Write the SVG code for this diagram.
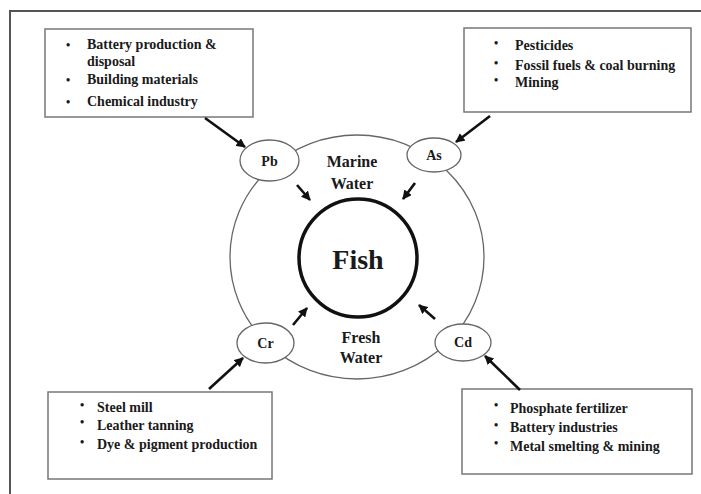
<svg xmlns="http://www.w3.org/2000/svg" width="701" height="494" viewBox="0 0 701 494">
<style>
text{font-family:"Liberation Serif","Times New Roman",serif;font-weight:bold;fill:#1a1a1a}
.box{fill:#fff;stroke:#777;stroke-width:1.5}
.el{fill:#fff;stroke:#666;stroke-width:1.3}
.t{font-size:14px}
.b{font-size:12px}
.lbl{font-size:14px;text-anchor:middle}
.wl{font-size:16px;text-anchor:middle}
.arr{stroke:#111;stroke-width:2.6;fill:none;marker-end:url(#ah)}
</style>
<defs>
<marker id="ah" viewBox="0 0 10 10" refX="9" refY="5" markerWidth="3.6" markerHeight="3.6" orient="auto" markerUnits="strokeWidth">
<path d="M0,0 L10,5 L0,10 z" fill="#111"/>
</marker>
</defs>
<rect width="701" height="494" fill="#fff"/>
<path d="M10,494 V11 H701" fill="none" stroke="#555" stroke-width="2"/>

<g id="water">
<ellipse cx="357" cy="257" rx="127" ry="122" fill="none" stroke="#666" stroke-width="1.3"/>
<text class="wl" x="352" y="167">Marine</text>
<text class="wl" x="352" y="189">Water</text>
<text class="wl" x="361" y="343">Fresh</text>
<text class="wl" x="361" y="363">Water</text>
</g>

<g id="fish">
<circle cx="358" cy="258" r="59" fill="#fff" stroke="#111" stroke-width="3.5"/>
<text x="358" y="269" font-size="28" text-anchor="middle">Fish</text>
</g>

<g id="pb"><ellipse class="el" cx="269.5" cy="160.5" rx="29.5" ry="20.5"/><text class="lbl" x="269.5" y="166">Pb</text></g>
<g id="as"><ellipse class="el" cx="434" cy="155" rx="27" ry="17"/><text class="lbl" x="434" y="160">As</text></g>
<g id="cr"><ellipse class="el" cx="265.5" cy="343" rx="28.5" ry="20"/><text class="lbl" x="265.5" y="348">Cr</text></g>
<g id="cd"><ellipse class="el" cx="463" cy="342.5" rx="28" ry="18.5"/><text class="lbl" x="463" y="347">Cd</text></g>

<g id="box-pb">
<rect class="box" x="45" y="29" width="208" height="88"/>
<text class="b" x="66" y="49">•</text><text class="t" x="87" y="49">Battery production &amp;</text>
<text class="t" x="87" y="66">disposal</text>
<text class="b" x="66" y="84">•</text><text class="t" x="87" y="84">Building materials</text>
<text class="b" x="66" y="106">•</text><text class="t" x="87" y="106">Chemical industry</text>
</g>

<g id="box-as">
<rect class="box" x="464" y="28" width="227" height="84"/>
<text class="b" x="494" y="47">•</text><text class="t" x="515" y="50">Pesticides</text>
<text class="b" x="494" y="67">•</text><text class="t" x="515" y="70">Fossil fuels &amp; coal burning</text>
<text class="b" x="494" y="84">•</text><text class="t" x="515" y="87">Mining</text>
</g>

<g id="box-cr">
<rect class="box" x="48" y="392" width="224" height="87"/>
<text class="b" x="80" y="409">•</text><text class="t" x="97" y="412">Steel mill</text>
<text class="b" x="80" y="426">•</text><text class="t" x="97" y="430">Leather tanning</text>
<text class="b" x="80" y="446">•</text><text class="t" x="97" y="449">Dye &amp; pigment production</text>
</g>

<g id="box-cd">
<rect class="box" x="462" y="389" width="230" height="85"/>
<text class="b" x="494" y="409">•</text><text class="t" x="510" y="413">Phosphate fertilizer</text>
<text class="b" x="494" y="429">•</text><text class="t" x="510" y="432">Battery industries</text>
<text class="b" x="494" y="447">•</text><text class="t" x="510" y="451">Metal smelting &amp; mining</text>
</g>

<g id="connectors">
<line class="arr" x1="205" y1="118" x2="245" y2="147"/>
<line class="arr" x1="490" y1="116" x2="456" y2="142"/>
<line class="arr" x1="209" y1="389" x2="243" y2="358"/>
<line class="arr" x1="520" y1="390" x2="485" y2="356"/>
<line class="arr" x1="297" y1="185" x2="310" y2="200"/>
<line class="arr" x1="415" y1="183" x2="403" y2="199"/>
<line class="arr" x1="293" y1="325" x2="307" y2="308"/>
<line class="arr" x1="435" y1="319" x2="419" y2="305"/>
</g>
</svg>
